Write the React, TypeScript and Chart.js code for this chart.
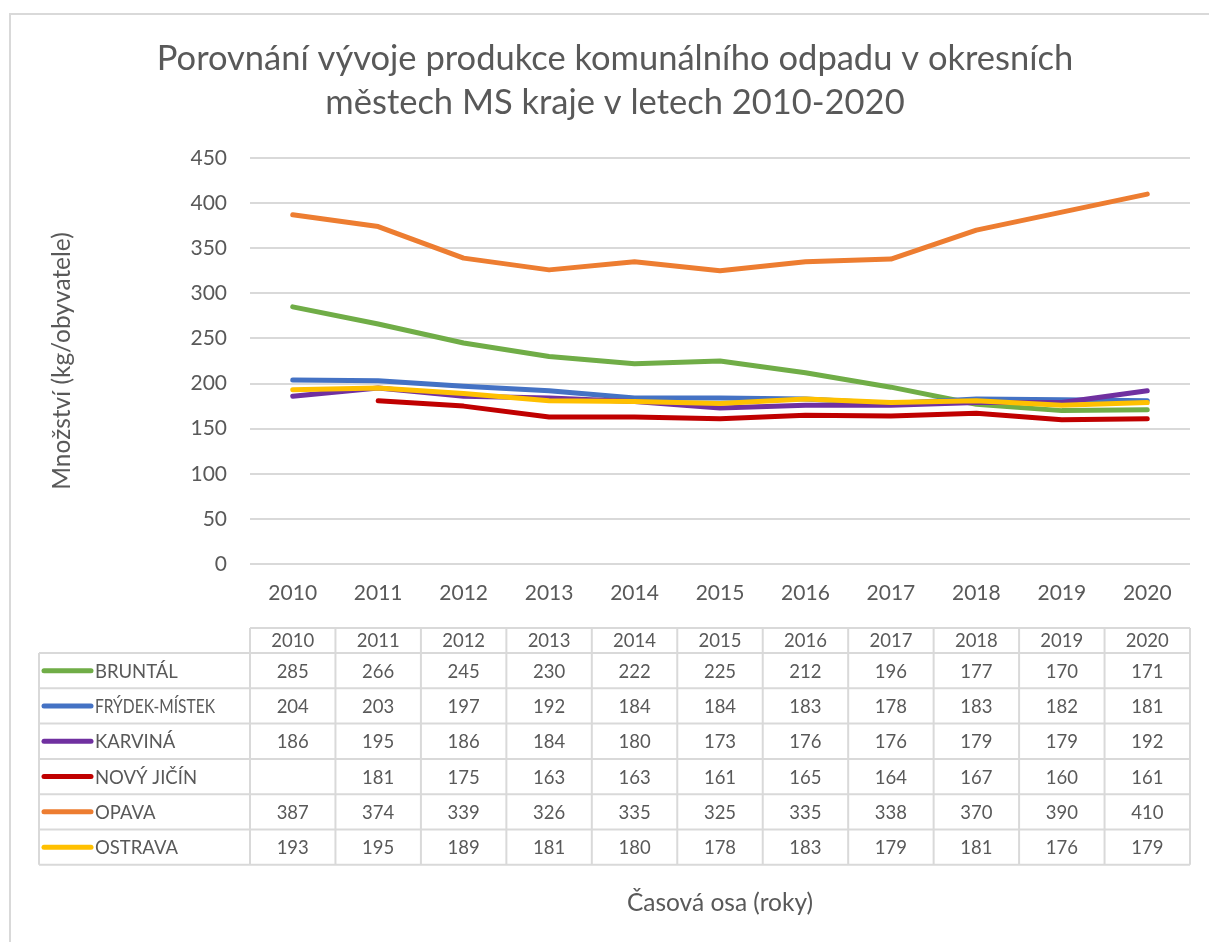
import React, { useEffect, useRef } from "react";
import { Chart, registerables } from "chart.js";

Chart.register(...registerables);

const years = ["2010", "2011", "2012", "2013", "2014", "2015", "2016", "2017", "2018", "2019", "2020"];
const bruntal = [285, 266, 245, 230, 222, 225, 212, 196, 177, 170, 171];
const frydekMistek = [204, 203, 197, 192, 184, 184, 183, 178, 183, 182, 181];
const karvina = [186, 195, 186, 184, 180, 173, 176, 176, 179, 179, 192];
const novyJicin = [null, 181, 175, 163, 163, 161, 165, 164, 167, 160, 161];
const opava = [387, 374, 339, 326, 335, 325, 335, 338, 370, 390, 410];
const ostrava = [193, 195, 189, 181, 180, 178, 183, 179, 181, 176, 179];

const seriesNames = ["BRUNTÁL", "FRÝDEK-MÍSTEK", "KARVINÁ", "NOVÝ JIČÍN", "OPAVA", "OSTRAVA"];
const seriesValues = [bruntal, frydekMistek, karvina, novyJicin, opava, ostrava];
const seriesColors = ["#70AD47", "#4472C4", "#7030A0", "#C00000", "#ED7D31", "#FFC000"];

const yMin = 0;
const yMax = 450;
const yStep = 50;

const titleLines = [
  "Porovnání vývoje produkce komunálního odpadu v okresních",
  "městech MS kraje v letech 2010-2020",
];
const yTitle = "Množství (kg/obyvatele)";
const xTitle = "Časová osa (roky)";

const W = 1209;
const H = 942;
const TEXT = "#595959";
const GRID = "#D9D9D9";
const FONT = "Lato";

const tablePlugin = {
  id: "excelTable",
  afterDraw(chart: any) {
    const { ctx, chartArea, scales } = chart;
    const x = scales.x;
    ctx.save();

    // outer frame (top and left edges)
    ctx.strokeStyle = GRID;
    ctx.lineWidth = 2;
    ctx.beginPath();
    ctx.moveTo(10, H);
    ctx.lineTo(10, 14);
    ctx.lineTo(W, 14);
    ctx.stroke();

    // title
    ctx.fillStyle = TEXT;
    ctx.font = `34.5px ${FONT}`;
    ctx.textAlign = "center";
    ctx.textBaseline = "alphabetic";
    ctx.fillText(titleLines[0], 615, 70);
    ctx.fillText(titleLines[1], 615, 114);

    // data table
    const n = years.length;
    const colW = (chartArea.right - chartArea.left) / n;
    const headerTop = 628;
    const rowTop = 653;
    const rowH = 35.3;
    const tableLeft = 39;
    const tableBottom = rowTop + rowH * seriesNames.length;

    ctx.strokeStyle = GRID;
    ctx.lineWidth = 2;
    ctx.beginPath();
    ctx.moveTo(chartArea.left, headerTop);
    ctx.lineTo(chartArea.right, headerTop);
    for (let r = 0; r <= seriesNames.length; r++) {
      const yy = rowTop + r * rowH;
      ctx.moveTo(tableLeft, yy);
      ctx.lineTo(chartArea.right, yy);
    }
    ctx.moveTo(tableLeft, rowTop);
    ctx.lineTo(tableLeft, tableBottom);
    for (let c = 0; c <= n; c++) {
      const xx = chartArea.left + c * colW;
      ctx.moveTo(xx, headerTop);
      ctx.lineTo(xx, tableBottom);
    }
    ctx.stroke();

    ctx.font = `18.5px ${FONT}`;
    ctx.fillStyle = TEXT;
    ctx.textBaseline = "middle";
    ctx.textAlign = "center";
    for (let c = 0; c < n; c++) {
      const cx = x.getPixelForValue(c);
      ctx.fillText(years[c], cx, (headerTop + rowTop) / 2 + 1);
    }
    for (let r = 0; r < seriesNames.length; r++) {
      const cy = rowTop + r * rowH + rowH / 2 + 1;
      const vals = seriesValues[r];
      ctx.textAlign = "center";
      for (let c = 0; c < n; c++) {
        const v = vals[c];
        if (v === null || v === undefined) continue;
        ctx.fillText(String(v), x.getPixelForValue(c), cy);
      }
      // legend key
      ctx.strokeStyle = seriesColors[r];
      ctx.lineWidth = 5;
      ctx.lineCap = "round";
      ctx.beginPath();
      ctx.moveTo(44, cy - 1);
      ctx.lineTo(91, cy - 1);
      ctx.stroke();
      ctx.textAlign = "left";
      ctx.fillText(seriesNames[r], 95, cy, 120);
    }

    // x axis title
    ctx.font = `24.5px ${FONT}`;
    ctx.textAlign = "center";
    ctx.textBaseline = "middle";
    ctx.fillText(xTitle, (chartArea.left + chartArea.right) / 2, 903);

    ctx.restore();
  },
};

export default function App() {
  const canvasRef = useRef<HTMLCanvasElement | null>(null);

  useEffect(() => {
    const canvas = canvasRef.current;
    if (!canvas) return;
    const n = seriesNames.length;
    const chart = new Chart(canvas, {
      type: "line",
      data: {
        labels: years,
        datasets: seriesNames.map((name, i) => ({
          label: name,
          data: seriesValues[i] as any,
          borderColor: seriesColors[i],
          backgroundColor: seriesColors[i],
          borderWidth: 5,
          borderCapStyle: "round" as const,
          borderJoinStyle: "round" as const,
          pointRadius: 0,
          tension: 0,
          spanGaps: false,
          order: n - i,
        })),
      },
      options: {
        responsive: false,
        devicePixelRatio: 1,
        animation: false,
        layout: { padding: { top: 158, right: 19, bottom: 0, left: 0 } },
        plugins: {
          legend: { display: false },
          title: { display: false },
          tooltip: { enabled: false },
        },
        scales: {
          x: {
            type: "category",
            offset: true,
            grid: { display: false, drawTicks: false },
            border: { display: false },
            ticks: {
              color: TEXT,
              font: { family: FONT, size: 21 },
              padding: 17,
              maxRotation: 0,
            },
            afterFit(scale: any) {
              scale.height = 378;
            },
          },
          y: {
            min: yMin,
            max: yMax,
            grid: { color: GRID, lineWidth: 2, drawTicks: false },
            border: { display: false },
            ticks: {
              stepSize: yStep,
              color: TEXT,
              font: { family: FONT, size: 21 },
              padding: 23,
            },
            title: {
              display: true,
              text: yTitle,
              color: TEXT,
              font: { family: FONT, size: 24.5 },
              padding: { top: 47, bottom: 0 },
            },
            afterFit(scale: any) {
              scale.width = 250;
            },
          },
        },
      },
      plugins: [tablePlugin],
    });
    return () => chart.destroy();
  }, []);

  return (
    <div style={{ position: "fixed", left: 0, top: 0, width: W, height: H, background: "#ffffff" }}>
      <canvas ref={canvasRef} width={W} height={H} style={{ display: "block", width: W, height: H }} />
    </div>
  );
}
